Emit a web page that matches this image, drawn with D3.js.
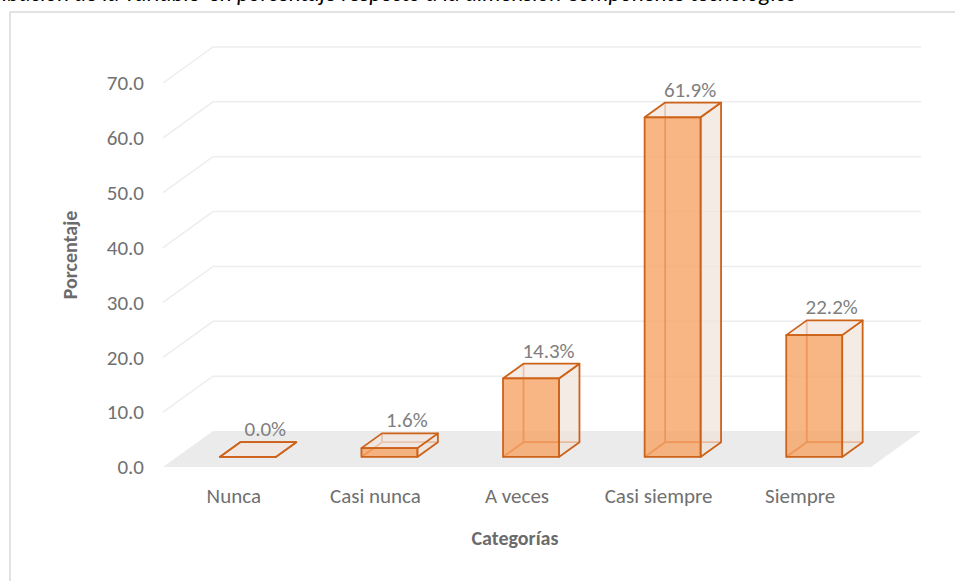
<!DOCTYPE html>
<html>
<head>
<meta charset="utf-8">
<script src="https://cdn.jsdelivr.net/npm/d3@7"></script>
<style>
  html, body { margin: 0; padding: 0; background: #ffffff; }
  svg { display: block; }
  text { font-family: Carlito, Calibri, Lato, sans-serif; }
</style>
</head>
<body>
<svg id="chart" width="955" height="581"></svg>
<script>
// Survey results: share of answers for each frequency category
const categories = ["Nunca", "Casi nunca", "A veces", "Casi siempre", "Siempre"];
const percentages = [0.0, 1.6, 14.3, 61.9, 22.2];
const yTicks = [0, 10, 20, 30, 40, 50, 60, 70];

const titleLead = "Distribución de la variable";
const titleRest = "en porcentaje respecto a la dimensión Componente tecnológico";

const svg = d3.select("#chart");

// Plot geometry: front floor edge and the oblique depth offset
const floorLeft = 163, floorRight = 871, floorFront = 467;
const depthX = 50, depthY = 36;
const zFront = 0.28, zBack = 0.69;

const x = d3.scaleBand().domain(categories).range([floorLeft, floorRight]);
const h = d3.scaleLinear().domain([0, 70]).range([0, 384]);
const yAxisScale = d3.scaleLinear().domain([0, 70]).range([floorFront, floorFront - 384]);

// Oblique projection: horizontal position, value, depth fraction (0 front .. 1 back)
const P = (px, v, z) => [px + z * depthX, floorFront - z * depthY - h(v)];

// Title line sitting above the chart frame
svg.append("text")
  .attr("x", 200).attr("y", 1)
  .attr("text-anchor", "end")
  .attr("font-style", "italic")
  .attr("font-size", 23)
  .attr("fill", "#000")
  .text(titleLead);
svg.append("text")
  .attr("x", 209).attr("y", 1)
  .attr("font-style", "italic")
  .attr("font-size", 23)
  .attr("fill", "#000")
  .text(titleRest);

// Chart frame
svg.append("rect")
  .attr("x", 10).attr("y", 12)
  .attr("width", 960).attr("height", 590)
  .attr("fill", "none")
  .attr("stroke", "#d9d9d9")
  .attr("stroke-width", 1.5);

// Floor
const floorPts = [P(floorLeft, 0, 0), P(floorRight, 0, 0), P(floorRight, 0, 1), P(floorLeft, 0, 1)];
svg.append("polygon")
  .attr("points", floorPts.map(p => p.join(",")).join(" "))
  .attr("fill", "#ebebeb");

// Gridlines: side wall slant + back wall
const line = d3.line();
svg.append("g").selectAll("path")
  .data(yTicks.filter(v => v > 0))
  .join("path")
  .attr("d", v => line([P(floorLeft, v, 0), P(floorLeft, v, 1), P(floorRight, v, 1)]))
  .attr("fill", "none")
  .attr("stroke", "#ededed")
  .attr("stroke-width", 1.5);

// Value axis
const yAxis = svg.append("g")
  .attr("transform", "translate(150,0)")
  .call(d3.axisLeft(yAxisScale).tickValues(yTicks).tickFormat(d3.format(".1f")).tickSize(0).tickPadding(6));
yAxis.select(".domain").remove();
yAxis.selectAll("text")
  .attr("font-family", "Carlito, Calibri, Lato, sans-serif")
  .attr("font-size", 21)
  .attr("fill", "#707070");

// Bars as oblique boxes
const barW = x.bandwidth() * 0.395;
const edge = "#cd6219";
const bars = svg.append("g").selectAll("g")
  .data(categories.map((c, i) => ({ c, v: percentages[i] })))
  .join("g");

bars.each(function (d) {
  const g = d3.select(this);
  const xl = x(d.c) + (x.bandwidth() - barW) / 2;
  const xr = xl + barW;
  const fbl = P(xl, 0, zFront), fbr = P(xr, 0, zFront);
  const ftl = P(xl, d.v, zFront), ftr = P(xr, d.v, zFront);
  const bbl = P(xl, 0, zBack), bbr = P(xr, 0, zBack);
  const btl = P(xl, d.v, zBack), btr = P(xr, d.v, zBack);
  const poly = pts => pts.map(p => p.join(",")).join(" ");

  // edges seen through the translucent faces
  g.append("path")
    .attr("d", line([fbl, bbl, bbr]) + "M" + bbl.join(",") + "L" + btl.join(","))
    .attr("fill", "none").attr("stroke", edge).attr("stroke-width", 1.8);

  // right side face
  g.append("polygon").attr("points", poly([fbr, bbr, btr, ftr]))
    .attr("fill", "#f1e2da").attr("fill-opacity", 0.7)
    .attr("stroke", edge).attr("stroke-width", 1.8).attr("stroke-linejoin", "round");
  // top face
  g.append("polygon").attr("points", poly([ftl, ftr, btr, btl]))
    .attr("fill", "#f3e6df").attr("fill-opacity", 0.75)
    .attr("stroke", edge).attr("stroke-width", 1.8).attr("stroke-linejoin", "round");
  // front face
  g.append("polygon").attr("points", poly([fbl, fbr, ftr, ftl]))
    .attr("fill", "#f8a466").attr("fill-opacity", 0.8)
    .attr("stroke", edge).attr("stroke-width", 1.8).attr("stroke-linejoin", "round");

  // value label above the back top edge
  const lp = P((xl + xr) / 2, d.v, zBack);
  g.append("text")
    .attr("x", lp[0] - 3).attr("y", lp[1] - 11)
    .attr("text-anchor", "middle")
    .attr("dominant-baseline", "middle")
    .attr("font-size", 21)
    .attr("fill", "#7f7f7f")
    .text(d.v.toFixed(1) + "%");
});

// Category labels
svg.append("g").selectAll("text")
  .data(categories)
  .join("text")
  .attr("x", c => x(c) + x.bandwidth() / 2)
  .attr("y", 498)
  .attr("text-anchor", "middle")
  .attr("dominant-baseline", "middle")
  .attr("font-size", 21)
  .attr("fill", "#707070")
  .text(c => c);

// Axis titles
svg.append("text")
  .attr("x", (floorLeft + floorRight) / 2 - 2).attr("y", 540)
  .attr("text-anchor", "middle")
  .attr("dominant-baseline", "middle")
  .attr("font-size", 20)
  .attr("font-weight", "bold")
  .attr("fill", "#6b6b6b")
  .text("Categorías");

svg.append("text")
  .attr("transform", "translate(72,255) rotate(-90)")
  .attr("text-anchor", "middle")
  .attr("dominant-baseline", "middle")
  .attr("font-size", 20)
  .attr("font-weight", "bold")
  .attr("fill", "#6b6b6b")
  .text("Porcentaje");
</script>
</body>
</html>
